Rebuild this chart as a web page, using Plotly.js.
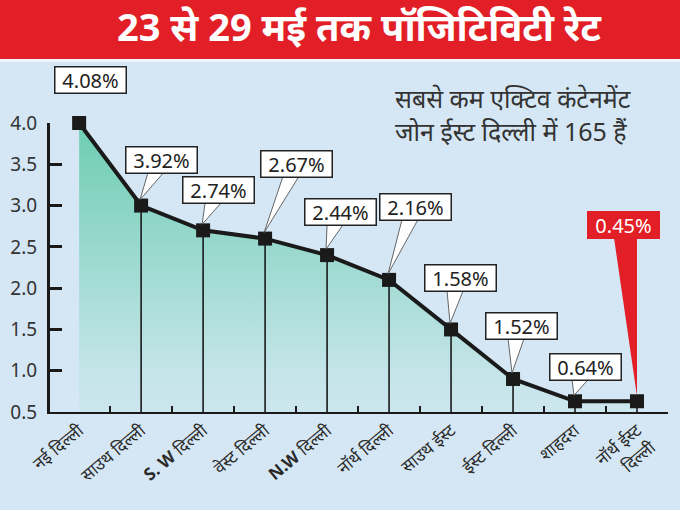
<!DOCTYPE html>
<html>
<head>
<meta charset="utf-8">
<script src="https://cdn.plot.ly/plotly-3.0.1.min.js"></script>
<style>
  html, body { margin: 0; padding: 0; background: #d5e7f4; }
  #chart { width: 680px; height: 510px; }
</style>
</head>
<body>
<div id="chart"></div>
<script>
// ---- data ----
const categories = ['नई दिल्ली', 'साउथ दिल्ली', '<b>S. W</b> दिल्ली', 'वेस्ट दिल्ली', '<b>N.W</b> दिल्ली',
                    'नॉर्थ दिल्ली', 'साउथ ईस्ट', 'ईस्ट दिल्ली', 'शाहदरा', 'नॉर्थ ईस्ट<br>दिल्ली'];
const plottedValues = [4.0, 3.0, 2.7, 2.6, 2.4, 2.1, 1.5, 0.9, 0.63, 0.63];
const rateLabels = ['4.08%', '3.92%', '2.74%', '2.67%', '2.44%', '2.16%', '1.58%', '1.52%', '0.64%', '0.45%'];
const yTickVals = [0.5, 1.0, 1.5, 2.0, 2.5, 3.0, 3.5, 4.0];
const yTickText = ['0.5', '1.0', '1.5', '2.0', '2.5', '3.0', '3.5', '4.0'];

// ---- styling / callout offsets (pixels) ----
const calloutOffsets = [[11, -43], [20, -46], [15, -40], [31, -75], [13, -43],
                        [26, -73], [9, -51], [8, -53], [10, -34], [-14, -176]];
const highlightIndex = 9;
const FONT = 'Noto Sans, DejaVu Sans, sans-serif';
const BG = '#d5e7f4';
const yMin = 0.5;
const BOX_W = 70, BOX_H = 25;

// drop lines below axis via error bars
const dropBelow = 0.2;
const dropMinus = plottedValues.map((v, i) => i === 0 ? 0 : v - yMin + dropBelow);

const traces = [
  {
    x: categories, y: plottedValues, type: 'scatter', mode: 'lines',
    fill: 'tozeroy',
    fillgradient: { type: 'vertical', colorscale: [[0, 'rgba(213,231,244,1)'], [0.25, '#c3e4e8'], [1, '#6ecdb3']] },
    line: { width: 0 }, hoverinfo: 'skip', showlegend: false
  },
  {
    x: categories, y: plottedValues, type: 'scatter', mode: 'lines+markers',
    line: { color: '#1a1a1a', width: 4 },
    marker: { symbol: 'square', size: 14, color: '#1a1a1a' },
    error_y: { type: 'data', symmetric: false, array: plottedValues.map(() => 0), arrayminus: dropMinus,
               color: '#1a1a1a', thickness: 1.6, width: 0 },
    cliponaxis: false, showlegend: false
  }
];

const annotations = [];
const shapes = [
  // red banner
  { type: 'rect', xref: 'paper', yref: 'paper', x0: -0.2, x1: 1.2,
    ysizemode: 'pixel', yanchor: 1, y0: 64, y1: 130,
    fillcolor: '#e21f26', line: { width: 0 }, layer: 'below' },
  { type: 'line', xref: 'paper', yref: 'paper', x0: -0.2, x1: 1.2,
    ysizemode: 'pixel', yanchor: 1, y0: 62.5, y1: 62.5,
    line: { color: '#eef5fa', width: 3 }, layer: 'below' }
];

rateLabels.forEach((lab, i) => {
  const [dx, dy] = calloutOffsets[i];
  const hl = i === highlightIndex;
  const baseY = -dy - BOX_H / 2;
  shapes.push({
    type: 'path', xref: 'x', yref: 'y', xsizemode: 'pixel', ysizemode: 'pixel',
    xanchor: i, yanchor: plottedValues[i],
    path: hl ? `M 0,5 L ${dx - 9},${baseY} L ${dx + 14},${baseY} Z`
             : `M -1,6 L ${dx - 13},${baseY} L ${dx + 3},${baseY} Z`,
    fillcolor: hl ? '#e21f26' : '#ffffff',
    line: { color: hl ? '#e21f26' : '#555555', width: hl ? 0 : 0.9 },
    layer: 'above'
  });
  annotations.push({
    x: i, y: plottedValues[i], xref: 'x', yref: 'y',
    text: lab, showarrow: true, arrowwidth: 0.1, arrowcolor: 'rgba(0,0,0,0)', arrowhead: 0,
    ax: dx, ay: dy, width: BOX_W, height: BOX_H,
    bgcolor: hl ? '#e21f26' : '#ffffff',
    bordercolor: hl ? '#e21f26' : '#222222', borderwidth: 1.5, borderpad: 0,
    font: { family: FONT, size: 20, color: hl ? '#ffffff' : '#222222' }
  });
});

annotations.push({
  xref: 'paper', yref: 'paper', x: 0.555, y: 1.0, yshift: 44,
  xanchor: 'left', yanchor: 'top', align: 'left', showarrow: false,
  text: 'सबसे कम एक्टिव कंटेनमेंट<br>जोन ईस्ट दिल्ली में 165 हैं',
  font: { family: FONT, size: 25, color: '#333333' }
});

const layout = {
  width: 680, height: 510,
  paper_bgcolor: BG, plot_bgcolor: BG,
  margin: { l: 50, r: 12, t: 123, b: 98 },
  title: { text: '<b>23 से 29 मई तक पॉजिटिविटी रेट</b>', x: 0.5, xref: 'paper', y: 0.945, yref: 'container',
           xanchor: 'center', yanchor: 'middle',
           font: { family: FONT, size: 38, color: '#ffffff' } },
  xaxis: {
    type: 'category', range: [-0.47, 9.5], tickson: 'boundaries', ticks: 'inside', ticklen: 6,
    tickwidth: 2, tickcolor: '#1a1a1a', showline: true, linecolor: '#1a1a1a', linewidth: 2,
    showgrid: false, zeroline: false, tickangle: -40,
    tickfont: { family: FONT, size: 17, color: '#2a2a2a' }, fixedrange: true
  },
  yaxis: {
    range: [0.5, 4.0], tickvals: yTickVals, ticktext: yTickText, ticks: 'inside', ticklen: 12,
    tickwidth: 3, tickcolor: '#1a1a1a', showline: true, linecolor: '#1a1a1a', linewidth: 3,
    showgrid: false, zeroline: false, ticklabelstandoff: 6,
    tickfont: { family: FONT, size: 19, color: '#333333' }, fixedrange: true
  },
  shapes: shapes,
  annotations: annotations,
  showlegend: false
};

Plotly.newPlot('chart', traces, layout, { displayModeBar: false, staticPlot: true });
</script>
</body>
</html>
